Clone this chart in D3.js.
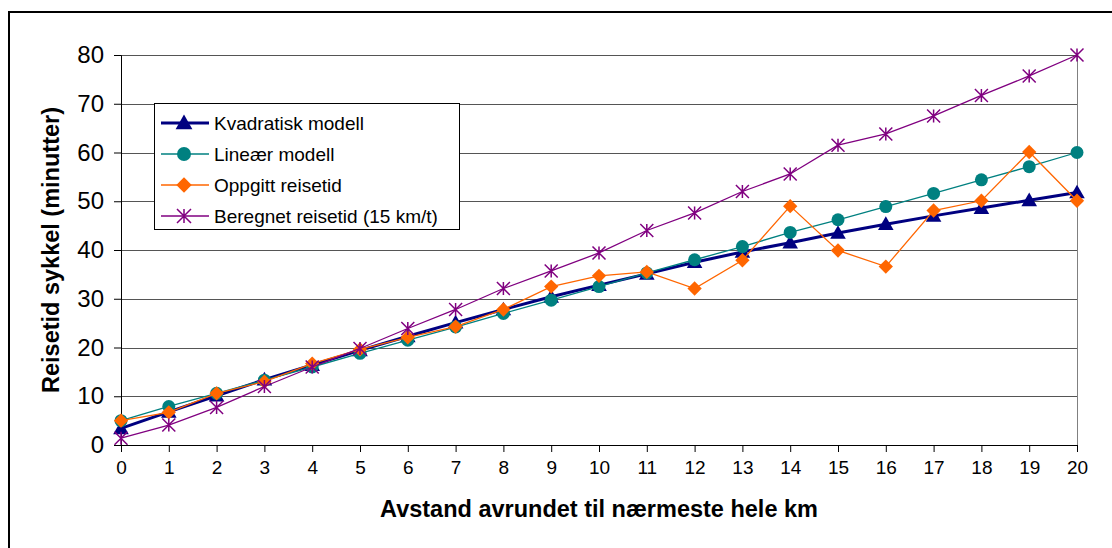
<!DOCTYPE html>
<html>
<head>
<meta charset="utf-8">
<script src="https://cdn.jsdelivr.net/npm/d3@7"></script>
<style>
  body { margin: 0; background: #fff; }
  svg { font-family: "Liberation Sans", Arial, sans-serif; }
</style>
</head>
<body>
<div id="chart"></div>
<script>
// data
const km = [0, 1, 2, 3, 4, 5, 6, 7, 8, 9, 10, 11, 12, 13, 14, 15, 16, 17, 18, 19, 20];
const kvadratisk = [3.4, 6.8, 10.1, 13.4, 16.4, 19.4, 22.3, 25.1, 27.8, 30.4, 32.8, 35.1, 37.5, 39.6, 41.5, 43.5, 45.3, 47.0, 48.6, 50.2, 51.8];
const linear = [5.0, 7.9, 10.6, 13.3, 16.0, 18.8, 21.5, 24.2, 27.0, 29.7, 32.5, 35.3, 38.0, 40.7, 43.6, 46.2, 48.9, 51.6, 54.4, 57.1, 60.0];
const oppgitt = [5.0, 6.7, 10.6, 13.0, 16.7, 19.6, 22.1, 24.3, 27.8, 32.5, 34.7, 35.5, 32.1, 37.9, 49.0, 39.9, 36.6, 48.1, 50.1, 60.1, 50.1];
const beregnet = [1.4, 4.1, 7.7, 12.0, 16.0, 19.8, 23.9, 27.8, 32.1, 35.7, 39.4, 44.0, 47.6, 52.0, 55.6, 61.5, 63.8, 67.5, 71.7, 75.7, 80.0];
const yTicks = [0, 10, 20, 30, 40, 50, 60, 70, 80];

const seriesNames = ['Kvadratisk modell', 'Lineær modell', 'Oppgitt reisetid', 'Beregnet reisetid (15 km/t)'];
const seriesValues = [kvadratisk, linear, oppgitt, beregnet];
const seriesColors = ['#000080', '#008080', '#ff6600', '#800080'];
const seriesWidths = [3, 1.3, 1.3, 1.3];
const seriesMarkers = ['triangle', 'circle', 'diamond', 'star'];

const W = 1112, H = 548;
const margin = { top: 55, right: 35, bottom: 103, left: 121 };
const iw = W - margin.left - margin.right;
const ih = H - margin.top - margin.bottom;

const svg = d3.select('#chart').append('svg')
    .attr('width', W)
    .attr('height', H);

// outer chart frame (right and bottom run off the picture)
svg.append('rect')
    .attr('x', 9).attr('y', 12)
    .attr('width', W + 20).attr('height', H + 20)
    .attr('fill', 'none')
    .attr('stroke', '#000')
    .attr('stroke-width', 2);

const x = d3.scaleLinear().domain([0, 20]).range([0, iw]);
const y = d3.scaleLinear().domain([0, 80]).range([ih, 0]);

const g = svg.append('g')
    .attr('transform', 'translate(' + margin.left + ',' + margin.top + ')');

// gridlines
g.selectAll('line.grid')
    .data(yTicks.filter(function(d) { return d > 0; }))
    .join('line')
    .classed('grid', true)
    .attr('x1', 0).attr('x2', iw)
    .attr('y1', function(d) { return Math.round(y(d)) + 0.5; })
    .attr('y2', function(d) { return Math.round(y(d)) + 0.5; })
    .attr('stroke', '#555')
    .attr('stroke-width', 1);

// plot area border (right side)
g.append('line')
    .attr('x1', iw + 0.5).attr('x2', iw + 0.5)
    .attr('y1', 0).attr('y2', ih)
    .attr('stroke', '#808080');

// axes
const yAxis = g.append('g')
    .call(d3.axisLeft(y).tickValues(yTicks).tickSize(7).tickPadding(10));
yAxis.select('.domain').attr('stroke', '#000');
yAxis.selectAll('text')
    .attr('font-size', 24)
    .attr('fill', '#000')
    .attr('font-family', '"Liberation Sans", Arial, sans-serif');

const xAxis = g.append('g')
    .attr('transform', 'translate(0,' + ih + ')')
    .call(d3.axisBottom(x).tickValues(km).tickFormat(d3.format('d')).tickSize(7).tickPadding(9));
xAxis.select('.domain').attr('stroke', '#000');
xAxis.selectAll('text')
    .attr('font-size', 19)
    .attr('fill', '#000')
    .attr('font-family', '"Liberation Sans", Arial, sans-serif');

// axis titles
svg.append('text')
    .attr('transform', 'translate(53,' + (margin.top + ih / 2) + ') rotate(-90)')
    .attr('text-anchor', 'middle')
    .attr('dominant-baseline', 'middle')
    .attr('font-size', 23.5)
    .attr('font-weight', 'bold')
    .text('Reisetid sykkel (minutter)');

svg.append('text')
    .attr('x', 599)
    .attr('y', 517)
    .attr('text-anchor', 'middle')
    .attr('font-size', 23.5)
    .attr('font-weight', 'bold')
    .text('Avstand avrundet til nærmeste hele km');

function drawMarker(sel, type, color, s) {
    if (type === 'triangle') {
        sel.append('path')
            .attr('d', 'M0,' + (-s * 0.6) + 'L' + (s * 0.6) + ',' + (s * 0.45) + 'L' + (-s * 0.6) + ',' + (s * 0.45) + 'Z')
            .attr('fill', color);
    } else if (type === 'circle') {
        sel.append('circle').attr('r', s * 0.5).attr('fill', color);
    } else if (type === 'diamond') {
        sel.append('path')
            .attr('d', 'M0,' + (-s * 0.55) + 'L' + (s * 0.55) + ',0L0,' + (s * 0.55) + 'L' + (-s * 0.55) + ',0Z')
            .attr('fill', color);
    } else if (type === 'star') {
        const r = s * 0.5;
        sel.append('path')
            .attr('d', 'M0,' + (-r) + 'V' + r +
                'M' + (-r) + ',' + (-r) + 'L' + r + ',' + r +
                'M' + r + ',' + (-r) + 'L' + (-r) + ',' + r)
            .attr('stroke', color)
            .attr('stroke-width', 1.5)
            .attr('fill', 'none');
    }
}

const line = d3.line()
    .x(function(d) { return x(d[0]); })
    .y(function(d) { return y(d[1]); });

seriesValues.forEach(function(vals, i) {
    const pts = km.map(function(k, j) { return [k, vals[j]]; });
    const sg = g.append('g');
    sg.append('path')
        .datum(pts)
        .attr('d', line)
        .attr('fill', 'none')
        .attr('stroke', seriesColors[i])
        .attr('stroke-width', seriesWidths[i]);
    sg.selectAll('g.mark')
        .data(pts)
        .join('g')
        .classed('mark', true)
        .attr('transform', function(d) { return 'translate(' + x(d[0]) + ',' + y(d[1]) + ')'; })
        .each(function() {
            drawMarker(d3.select(this), seriesMarkers[i], seriesColors[i], 13);
        });
});

// legend
const legend = svg.append('g').attr('transform', 'translate(154,103)');
legend.append('rect')
    .attr('x', 0.5).attr('y', 0.5)
    .attr('width', 305).attr('height', 126)
    .attr('fill', '#fff')
    .attr('stroke', '#000')
    .attr('stroke-width', 1);

seriesNames.forEach(function(name, i) {
    const row = legend.append('g').attr('transform', 'translate(0,' + (20 + i * 31) + ')');
    row.append('line')
        .attr('x1', 7).attr('x2', 55)
        .attr('y1', 0).attr('y2', 0)
        .attr('stroke', seriesColors[i])
        .attr('stroke-width', seriesWidths[i]);
    const m = row.append('g').attr('transform', 'translate(30,0)');
    drawMarker(m, seriesMarkers[i], seriesColors[i], 14);
    row.append('text')
        .attr('x', 60)
        .attr('y', 0)
        .attr('dominant-baseline', 'central')
        .attr('font-size', 19)
        .text(name);
});
</script>
</body>
</html>
